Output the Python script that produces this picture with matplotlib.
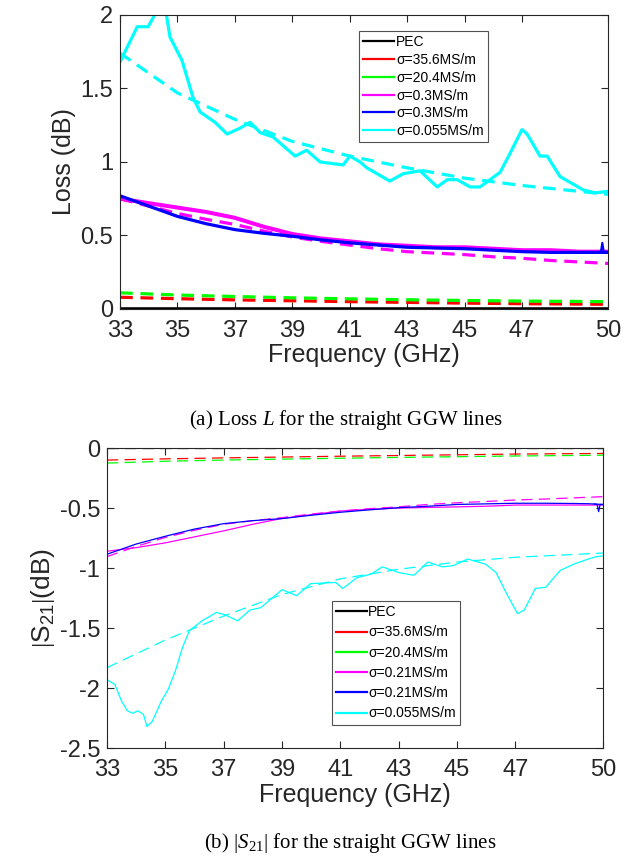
"""Loss and |S21| of straight GGW lines (two stacked panels)."""
import matplotlib
matplotlib.use('Agg')
import matplotlib.pyplot as plt

plt.rcParams['font.family'] = ['Liberation Sans', 'DejaVu Sans']
plt.rcParams['mathtext.fontset'] = 'custom'
plt.rcParams['mathtext.rm'] = 'Liberation Serif'
plt.rcParams['mathtext.it'] = 'Liberation Serif:italic'

# ---- panel (a): loss ----
xticks = [33, 35, 37, 39, 41, 43, 45, 47, 50]
loss_yticks = [0, 0.5, 1, 1.5, 2]
loss_yticklabels = ['0', '0.5', '1', '1.5', '2']
labels_a = ['PEC', 'σ=35.6MS/m', 'σ=20.4MS/m', 'σ=0.3MS/m', 'σ=0.3MS/m', 'σ=0.055MS/m']

f_grid = [33, 35, 37, 39, 41, 43, 45, 47, 50]
pec_loss = [0, 0, 0, 0, 0, 0, 0, 0, 0]
red_loss_sim = [0.08, 0.07, 0.062, 0.056, 0.05, 0.045, 0.04, 0.036, 0.032]
green_loss_sim = [0.11, 0.095, 0.085, 0.076, 0.069, 0.063, 0.058, 0.054, 0.05]

mag_loss_f = [33, 34, 35, 36, 37, 38, 39, 40, 41, 42, 43, 44, 45, 46, 47, 48, 49, 50]
mag_loss_meas = [0.75, 0.72, 0.69, 0.66, 0.62, 0.56, 0.51, 0.48, 0.46, 0.44, 0.43, 0.42, 0.42, 0.41, 0.40, 0.40, 0.39, 0.39]
blue_loss_meas = [0.77, 0.70, 0.63, 0.58, 0.54, 0.515, 0.495, 0.47, 0.45, 0.435, 0.42, 0.415, 0.41, 0.40, 0.39, 0.385, 0.385, 0.385]
mag_loss_sim = [0.75, 0.70, 0.65, 0.61, 0.575, 0.53, 0.49, 0.46, 0.435, 0.41, 0.39, 0.38, 0.37, 0.355, 0.345, 0.33, 0.32, 0.31]
blue_spike_f = [49.6, 49.75, 49.8, 49.85, 50]
blue_spike_v = [0.385, 0.39, 0.45, 0.39, 0.385]

cyan_loss_f = [33.0, 33.1, 33.6, 33.98, 34.29, 34.45, 34.6, 34.74, 35.16, 35.54, 35.79, 36.31, 36.73,
               37.18, 37.53, 37.88, 38.33, 39.1, 39.5, 39.97, 40.77, 41.01, 41.36, 41.6, 42.4,
               42.86, 43.45, 44.05, 44.4, 44.74, 45.2, 45.54, 46.24, 46.59, 47.0, 47.18, 47.63,
               47.88, 48.33, 48.78, 49.13, 49.55, 49.97, 50.0]
cyan_loss_meas = [1.68, 1.72, 1.92, 1.92, 2.03, 2.05, 2.02, 1.85, 1.69, 1.44, 1.34, 1.27, 1.19,
                  1.23, 1.27, 1.20, 1.17, 1.04, 1.08, 1.00, 0.98, 1.04, 1.00, 0.96, 0.87,
                  0.92, 0.94, 0.83, 0.88, 0.88, 0.83, 0.83, 0.93, 1.06, 1.22, 1.19, 1.04,
                  1.04, 0.90, 0.85, 0.81, 0.79, 0.80, 0.79]
cyan_loss_sim = [1.74, 1.47, 1.29, 1.14, 1.04, 0.96, 0.89, 0.84, 0.78]

# ---- panel (b): |S21| ----
s21_yticks = [0, -0.5, -1, -1.5, -2, -2.5]
s21_yticklabels = ['0', '-0.5', '-1', '-1.5', '-2', '-2.5']
labels_b = ['PEC', 'σ=35.6MS/m', 'σ=20.4MS/m', 'σ=0.21MS/m', 'σ=0.21MS/m', 'σ=0.055MS/m']

pec_s21 = [0, 0, 0, 0, 0, 0, 0, 0, 0]
red_s21_sim = [-0.10, -0.09, -0.082, -0.075, -0.068, -0.062, -0.056, -0.05, -0.045]
green_s21_sim = [-0.125, -0.11, -0.10, -0.092, -0.085, -0.078, -0.072, -0.066, -0.06]

s21_f = [33, 34, 35, 36, 37, 38, 39, 40, 41, 42, 43, 44, 45, 46, 47, 48, 49, 49.5, 50]
blue_s21_meas = [-0.885, -0.80, -0.735, -0.675, -0.63, -0.605, -0.588, -0.56, -0.535, -0.515, -0.497,
                 -0.485, -0.47, -0.465, -0.46, -0.46, -0.462, -0.464, -0.47]
mag_s21_meas = [-0.86, -0.83, -0.79, -0.74, -0.69, -0.635, -0.586, -0.555, -0.525, -0.51, -0.50,
                -0.495, -0.49, -0.485, -0.475, -0.475, -0.475, -0.475, -0.475]
mag_s21_sim = [-0.905, -0.82, -0.745, -0.685, -0.635, -0.605, -0.58, -0.55, -0.525, -0.505, -0.49,
               -0.47, -0.456, -0.445, -0.433, -0.425, -0.415, -0.41, -0.405]
blue_dip_f = [49.7, 49.8, 49.85, 49.9, 50]
blue_dip_v = [-0.465, -0.47, -0.53, -0.47, -0.47]

cyan_s21_f = [33.0, 33.27, 33.5, 33.7, 33.88, 34.06, 34.25, 34.37, 34.55, 34.86, 35.1, 35.34,
              35.59, 35.83, 36.26, 36.75, 37.05, 37.48, 37.9, 38.27, 39.0, 39.5, 39.98, 40.84,
              41.08, 41.57, 42.06, 42.43, 43.04, 43.52, 44.0, 44.5, 44.87, 45.36, 45.97, 46.33,
              46.7, 47.07, 47.3, 47.68, 48.04, 48.53, 49.0, 49.5, 49.75, 50.0]
cyan_s21_meas = [-1.93, -1.97, -2.11, -2.19, -2.21, -2.19, -2.22, -2.32, -2.28, -2.11, -2.01, -1.86,
                 -1.66, -1.52, -1.44, -1.37, -1.39, -1.44, -1.35, -1.33, -1.18, -1.23, -1.13, -1.12,
                 -1.17, -1.08, -1.05, -0.99, -1.04, -1.06, -0.95, -0.99, -0.98, -0.925, -0.967, -1.036,
                 -1.215, -1.38, -1.35, -1.17, -1.16, -1.02, -0.967, -0.925, -0.906, -0.898]
cyan_s21_sim = [-1.83, -1.60, -1.40, -1.22, -1.09, -1.01, -0.95, -0.91, -0.875]

colors = ['black', '#ff0000', '#00ff00', '#ff00ff', '#0000ff', '#00ffff']
axis_col = '#262626'

fig = plt.figure(figsize=(6.33, 8.60), dpi=100)
ax1 = fig.add_axes([0.1896, 0.6407, 0.771, 0.3419])
ax2 = fig.add_axes([0.169, 0.1302, 0.7836, 0.3488])

# panel (a)
lw = 2.3
dash_a = (4, 2.4)
ax1.plot(f_grid, red_loss_sim, color=colors[1], lw=lw, dashes=dash_a)
ax1.plot(f_grid, green_loss_sim, color=colors[2], lw=lw, dashes=dash_a)
ax1.plot(mag_loss_f, mag_loss_sim, color=colors[3], lw=lw, dashes=dash_a)
ax1.plot(f_grid, cyan_loss_sim, color=colors[5], lw=lw, dashes=dash_a)
ax1.plot(f_grid, pec_loss, color=colors[0], lw=lw + 1)
ax1.plot(mag_loss_f, mag_loss_meas, color=colors[3], lw=lw + 0.6)
ax1.plot(mag_loss_f, blue_loss_meas, color=colors[4], lw=lw)
ax1.plot(blue_spike_f, blue_spike_v, color=colors[4], lw=1.5)
ax1.plot(cyan_loss_f, cyan_loss_meas, color=colors[5], lw=lw)
handles_a = [plt.Line2D([], [], color=c, lw=1.6) for c in colors]
ax1.legend(handles_a, labels_a, loc='upper left', bbox_to_anchor=(0.49, 0.945),
           fontsize=10, frameon=True, fancybox=False, edgecolor=axis_col,
           handlelength=2.2, handletextpad=0.15, labelspacing=0.27, borderpad=0.3,
           borderaxespad=0)
ax1.set_ylim(0, 2)
ax1.set_yticks(loss_yticks)
ax1.set_yticklabels(loss_yticklabels)
ax1.set_ylabel('Loss (dB)', fontsize=18, color=axis_col, labelpad=3)

# panel (b)
lwb = 0.9
dash_b = (9, 5)
ax2.plot(f_grid, pec_s21, color=colors[0], lw=lwb + 0.4)
ax2.plot(f_grid, pec_s21, color=colors[0], lw=lwb, dashes=dash_b)
ax2.plot(f_grid, red_s21_sim, color=colors[1], lw=lwb, dashes=dash_b)
ax2.plot(f_grid, green_s21_sim, color=colors[2], lw=lwb, dashes=dash_b)
ax2.plot(s21_f, mag_s21_sim, color=colors[3], lw=lwb, dashes=dash_b)
ax2.plot(f_grid, cyan_s21_sim, color=colors[5], lw=lwb, dashes=dash_b)
ax2.plot(s21_f, mag_s21_meas, color=colors[3], lw=lwb)
ax2.plot(s21_f, blue_s21_meas, color=colors[4], lw=lwb)
ax2.plot(blue_dip_f, blue_dip_v, color=colors[4], lw=lwb)
ax2.plot(cyan_s21_f, cyan_s21_meas, color=colors[5], lw=lwb)
handles_b = [plt.Line2D([], [], color=c, lw=1.6) for c in colors]
ax2.legend(handles_b, labels_b, loc='upper left', bbox_to_anchor=(0.454, 0.49),
           fontsize=10, frameon=True, fancybox=False, edgecolor=axis_col,
           handlelength=2.2, handletextpad=0.1, labelspacing=0.45, borderpad=0.3,
           borderaxespad=0)
ax2.set_ylim(-2.5, 0)
ax2.set_yticks(s21_yticks)
ax2.set_yticklabels(s21_yticklabels)
ax2.set_ylabel(r'$|\mathregular{S_{21}}|$(dB)', fontsize=19, color=axis_col, labelpad=2)

for ax in (ax1, ax2):
    ax.set_xlim(33, 50)
    ax.set_xticks(xticks)
    ax.set_xticklabels([str(x) for x in xticks])
    ax.set_xlabel('Frequency (GHz)', fontsize=18, color=axis_col, labelpad=1)
    ax.tick_params(direction='in', top=True, right=True, length=5, width=0.8,
                   labelsize=17, colors=axis_col)
    ax.tick_params(axis='x', pad=8)
    ax.tick_params(axis='y', pad=5)
    for s in ax.spines.values():
        s.set_color(axis_col)
        s.set_linewidth(0.8)
    ax.get_legend().get_frame().set_linewidth(0.8)

fig.text(0.547, 1 - 420 / 860, r'(a) Loss $L$ for the straight GGW lines',
         family='Liberation Serif', fontsize=15, ha='center', va='center')
fig.text(0.553, 1 - 843 / 860, r'(b) $|S_{21}|$ for the straight GGW lines',
         family='Liberation Serif', fontsize=15, ha='center', va='center')

plt.savefig('out.png', dpi=100)
print("Saved out.png")
